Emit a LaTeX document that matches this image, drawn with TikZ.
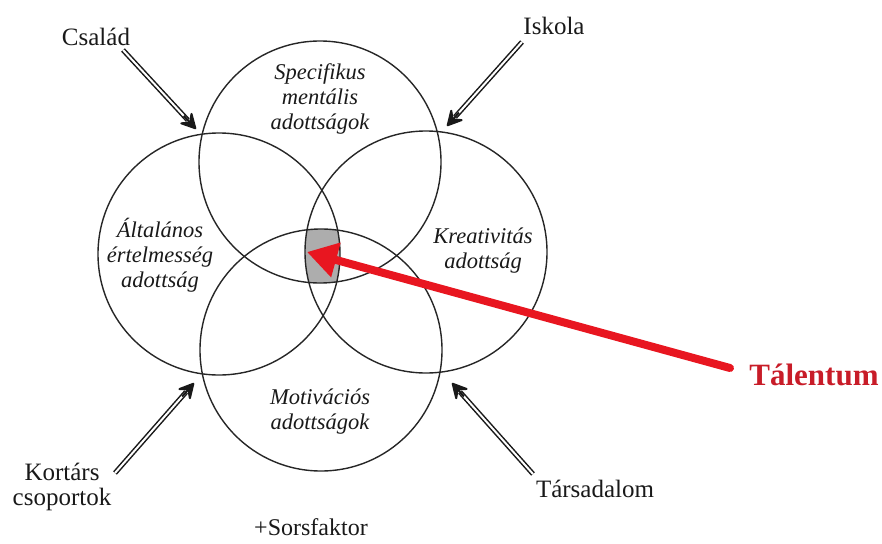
\documentclass[tikz,border=0pt]{standalone}
\usepackage{fontspec}
\setmainfont{Liberation Serif}
\usetikzlibrary{arrows.meta,calc}
\definecolor{talred}{RGB}{200,28,40}
\definecolor{arrred}{RGB}{232,22,32}
\begin{document}
\begin{tikzpicture}[x=1pt,y=-1pt,
  ring/.style={circle, draw=black!85, line width=1.4pt, minimum size=242pt, inner sep=0pt},
  lab/.style={font=\fontsize{22.5}{25}\selectfont\itshape, align=center, inner sep=0pt, text=black!90},
  ext/.style={font=\fontsize{25}{25}\selectfont, align=center, inner sep=0pt, text=black!90},
  dbl/.style={draw=black!90, double=white, double distance=2pt, line width=1.5pt, shorten >=12pt},
  dtip/.style={draw=black!90, fill=black!90, line width=2pt, line join=round,
    -{Stealth[length=19pt,width=20pt,inset=8pt,round]}},
]
\useasboundingbox (0,0) rectangle (882,543);
% shaded intersection of the four circles
\begin{scope}
  \clip (320,162) circle (121);
  \clip (219,254) circle (121);
  \clip (426,252) circle (121);
  \fill[black!32] (321,350) circle (121);
\end{scope}
% circles
\node[ring] (ctop) at (320,162) {};
\node[ring] (cleft) at (219,254) {};
\node[ring] (cright) at (426,252) {};
\node[ring] (cbot) at (321,350) {};
% circle labels
\node[lab] (spec) at (320,99) {Specifikus\\mentális\\adottságok};
\node[lab] (alt) at (160,255) {Általános\\értelmesség\\adottság};
\node[lab] (krea) at (483,251) {Kreativitás\\adottság};
\node[lab] (moti) at (320,412) {Motivációs\\adottságok};
% outer labels
\node[ext] (csalad) at (96,37) {Család};
\node[ext] (iskola) at (554,26) {Iskola};
\node[ext] (kortars) at (62,487) {Kortárs\\csoportok};
\node[ext] (tarsad) at (595,489) {Társadalom};
\node[ext, font=\fontsize{24}{24}\selectfont] (sors) at (311,527) {+Sorsfaktor};
\node[font=\fontsize{31}{31}\selectfont\bfseries, text=talred, inner sep=0pt] (talent) at (814,375) {Tálentum};
% arrow end points
\coordinate (cs1) at (123,50);  \coordinate (cs2) at (196,129);
\coordinate (is1) at (522,42);  \coordinate (is2) at (447,126);
\coordinate (ko1) at (115,473); \coordinate (ko2) at (194,383);
\coordinate (ta1) at (533,474); \coordinate (ta2) at (452,383);
\coordinate (r1) at (730,368);  \coordinate (r2) at (307,252);
% double arrows
\draw[dbl] (cs1) -- (cs2);
\draw[dtip] ($(cs2)!18pt!(cs1)$) -- (cs2);
\draw[dbl] (is1) -- (is2);
\draw[dtip] ($(is2)!18pt!(is1)$) -- (is2);
\draw[dbl] (ko1) -- (ko2);
\draw[dtip] ($(ko2)!18pt!(ko1)$) -- (ko2);
\draw[dbl] (ta1) -- (ta2);
\draw[dtip] ($(ta2)!18pt!(ta1)$) -- (ta2);
% red arrow
\draw[arrred, line width=8pt, line cap=round, -{Triangle[length=30pt,width=34pt]}] (r1) -- (r2);
\end{tikzpicture}
\end{document}
